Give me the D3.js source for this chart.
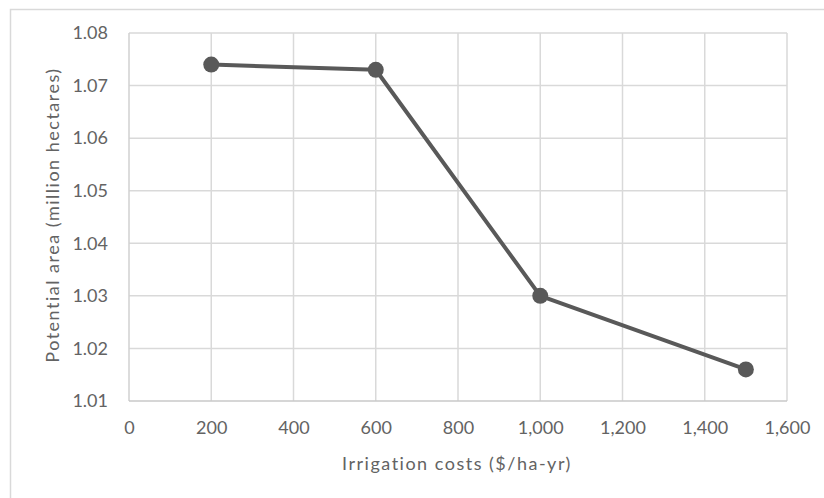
<!DOCTYPE html>
<html><head><meta charset="utf-8">
<script src="https://cdn.jsdelivr.net/npm/d3@7"></script>
<style>body{margin:0;background:#fff;} svg{display:block;}</style>
</head><body>
<svg id="c" width="824" height="498"></svg>
<script>
const costs = [200, 600, 1000, 1500];
const area = [1.074, 1.073, 1.030, 1.016];
const xTicks = [0, 200, 400, 600, 800, 1000, 1200, 1400, 1600];
const yTicks = [1.01, 1.02, 1.03, 1.04, 1.05, 1.06, 1.07, 1.08];
const xTitle = "Irrigation costs ($/ha-yr)";
const yTitle = "Potential area (million hectares)";

const svg = d3.select("#c");
const font = "Lato, 'Open Sans', sans-serif";
const txt = "#636363";
svg.append("rect").attr("x",10.5).attr("y",9.5).attr("width",830).attr("height",500)
  .attr("fill","#fff").attr("stroke","#d9d9d9").attr("stroke-width",1.5);

const m = {l:129, r:787, t:33, b:401};
const x = d3.scaleLinear().domain([0,1600]).range([m.l,m.r]);
const y = d3.scaleLinear().domain([1.01,1.08]).range([m.b,m.t]);

const g = svg.append("g");
g.selectAll(".vg").data(xTicks.slice(1)).enter().append("line")
  .attr("x1",d=>x(d)).attr("x2",d=>x(d)).attr("y1",m.t).attr("y2",m.b)
  .attr("stroke","#d9d9d9").attr("stroke-width",1.5);
g.selectAll(".hg").data(yTicks.slice(1)).enter().append("line")
  .attr("x1",m.l).attr("x2",m.r).attr("y1",d=>y(d)).attr("y2",d=>y(d))
  .attr("stroke","#d9d9d9").attr("stroke-width",1.5);
g.append("line").attr("x1",m.l).attr("x2",m.l).attr("y1",m.t).attr("y2",m.b)
  .attr("stroke","#d0d0d0").attr("stroke-width",1.5);
g.append("line").attr("x1",m.l).attr("x2",m.r).attr("y1",m.b).attr("y2",m.b)
  .attr("stroke","#c8c8c8").attr("stroke-width",1.5);

const xa = svg.append("g").attr("transform",`translate(0,${m.b})`)
  .call(d3.axisBottom(x).tickValues(xTicks).tickSize(0).tickPadding(20).tickFormat(d3.format(",")));
xa.select(".domain").remove();
xa.selectAll("text").attr("fill",txt).style("font-family",font).style("font-size","18px");

const ya = svg.append("g").attr("transform",`translate(${m.l},0)`)
  .call(d3.axisLeft(y).tickValues(yTicks).tickSize(0).tickPadding(21).tickFormat(d3.format(".2f")));
ya.select(".domain").remove();
ya.selectAll("text").attr("fill",txt).style("font-family",font).style("font-size","18px");

const data = costs.map((c,i)=>({c, a:area[i]}));
svg.append("path").datum(data)
  .attr("d", d3.line().x(d=>x(d.c)).y(d=>y(d.a)))
  .attr("fill","none").attr("stroke","#595959").attr("stroke-width",4).attr("stroke-linejoin","round");
svg.selectAll(".pt").data(data).enter().append("circle")
  .attr("cx",d=>x(d.c)).attr("cy",d=>y(d.a)).attr("r",8).attr("fill","#595959");

svg.append("text").attr("x",457).attr("y",470).attr("text-anchor","middle")
  .attr("fill",txt).style("font-family",font).style("font-size","18px").style("letter-spacing","1.5px").text(xTitle);
svg.append("text").attr("transform",`translate(59,215) rotate(-90)`).attr("text-anchor","middle")
  .attr("fill",txt).style("font-family",font).style("font-size","18px").style("letter-spacing","1.5px").text(yTitle);
</script>
</body></html>
